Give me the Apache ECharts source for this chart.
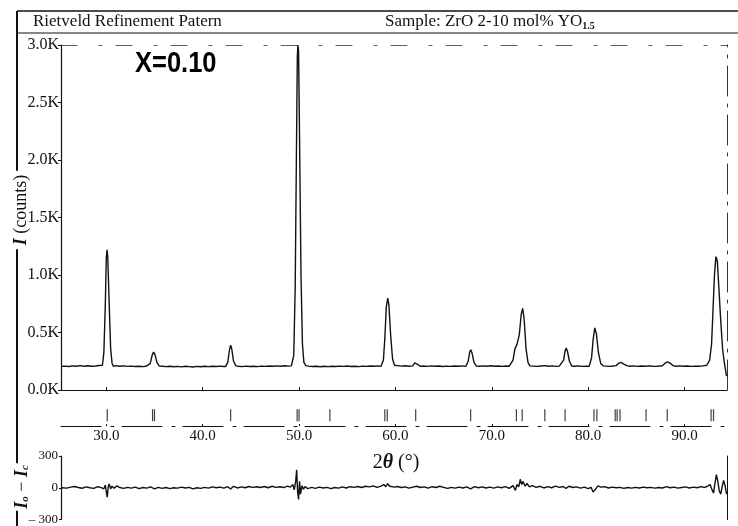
<!DOCTYPE html>
<html>
<head>
<meta charset="utf-8">
<title>Rietveld Refinement Patern</title>
<script src="https://cdn.jsdelivr.net/npm/echarts@6/dist/echarts.min.js"></script>
<style>
    html, body { margin: 0; padding: 0; background: #fff; }
    #chart { width: 738px; height: 526px; }
</style>
</head>
<body>
<div id="chart"></div>
<script>
// calculated profile, [2theta, counts]
const profile = [
    [25.35, 205], [25.7, 208], [26.1, 204], [26.5, 210], [26.9, 206], [27.3, 212], [27.7, 207], [28.1, 211],
    [28.5, 206], [28.9, 209], [29.2, 213],
    [29.4, 205], [29.6, 215], [29.75, 330], [29.9, 750], [30.0, 1150], [30.08, 1220], [30.15, 1160],
    [30.3, 750], [30.45, 360], [30.6, 230], [30.75, 205],
    [31.0, 212], [31.4, 207], [31.8, 210], [32.2, 205], [32.6, 208], [33.0, 204], [33.4, 207], [33.8, 203], [34.1, 206],
    [34.3, 205], [34.55, 230], [34.75, 300], [34.9, 330], [35.05, 310], [35.25, 240], [35.5, 208],
    [35.8, 206], [36.2, 203], [36.6, 207], [37.0, 202], [37.4, 205], [37.8, 201], [38.2, 206], [38.6, 203],
    [39.0, 200], [39.4, 205], [39.8, 202], [40.2, 206], [40.6, 203], [41.0, 207], [41.4, 204], [41.8, 208], [42.1, 205],
    [42.4, 205], [42.6, 240], [42.78, 350], [42.9, 390], [43.02, 355], [43.2, 250], [43.45, 210],
    [43.7, 206], [44.1, 203], [44.5, 208], [44.9, 204], [45.3, 207], [45.7, 203], [46.1, 208], [46.5, 205],
    [46.9, 209], [47.3, 206], [47.7, 210], [48.1, 207], [48.5, 211], [48.9, 208],
    [49.2, 210], [49.45, 300], [49.6, 900], [49.72, 2000], [49.82, 2900], [49.88, 3000], [49.95, 2950],
    [50.05, 2200], [50.2, 1000], [50.35, 400], [50.5, 240], [50.7, 212],
    [51.0, 208], [51.4, 204], [51.8, 207], [52.2, 202], [52.6, 206], [53.0, 203], [53.4, 207], [53.8, 204],
    [54.2, 208], [54.6, 205], [55.0, 209], [55.4, 204], [55.8, 207], [56.2, 203], [56.6, 208], [57.0, 205],
    [57.4, 209], [57.8, 206], [58.2, 210],
    [58.5, 205], [58.75, 260], [58.9, 450], [59.05, 720], [59.2, 800], [59.32, 740], [59.5, 480], [59.7, 270], [59.9, 215],
    [60.2, 212], [60.6, 208], [61.0, 211], [61.4, 207],
    [61.8, 210], [62.0, 235], [62.15, 243], [62.35, 220], [62.6, 205],
    [62.9, 209], [63.3, 205], [63.7, 210], [64.1, 206], [64.5, 209], [64.9, 204], [65.3, 208], [65.7, 205],
    [66.1, 209], [66.5, 206], [66.9, 210],
    [67.3, 205], [67.55, 250], [67.7, 330], [67.82, 350], [67.95, 320], [68.15, 240], [68.4, 208],
    [68.7, 206], [69.1, 210], [69.5, 207], [69.9, 211], [70.3, 206], [70.7, 209], [71.1, 205], [71.5, 209], [71.8, 207],
    [72.0, 210], [72.2, 260], [72.4, 360], [72.6, 395], [72.85, 480], [73.05, 660], [73.2, 710], [73.35, 620],
    [73.55, 360], [73.75, 240], [73.95, 210],
    [74.3, 208], [74.7, 205], [75.1, 209], [75.5, 212], [75.9, 206], [76.3, 210], [76.7, 205], [77.0, 208],
    [77.2, 205], [77.45, 260], [77.6, 340], [77.72, 365], [77.85, 335], [78.05, 250], [78.3, 208],
    [78.6, 206], [79.0, 210], [79.4, 205], [79.8, 208],
    [80.1, 205], [80.35, 280], [80.5, 430], [80.68, 540], [80.85, 490], [81.05, 330], [81.3, 230], [81.55, 210],
    [81.9, 208], [82.3, 205], [82.6, 209],
    [82.9, 212], [83.15, 232], [83.4, 240], [83.7, 225], [84.0, 212],
    [84.3, 207], [84.7, 210], [85.1, 205], [85.5, 209], [85.9, 206], [86.3, 210], [86.7, 207], [87.1, 205], [87.4, 209],
    [87.7, 210], [88.0, 235], [88.25, 245], [88.5, 232], [88.8, 212],
    [89.1, 207], [89.5, 210], [89.9, 206], [90.3, 209], [90.7, 205], [91.1, 208], [91.5, 206], [91.9, 210], [92.1, 212],
    [92.3, 215], [92.6, 260], [92.8, 400], [92.95, 700], [93.1, 1000], [93.25, 1160], [93.4, 1120], [93.55, 900],
    [93.75, 600], [93.95, 350], [94.1, 250], [94.35, 120]
];

// difference curve Io - Ic
const residual = [
    [25.4, 0], [25.9, -4], [26.3, 6], [26.7, 12], [27.1, 2], [27.5, -5], [27.9, 8], [28.3, 0], [28.7, -6], [29.1, 10],
    [29.4, 4], [29.6, 20], [29.75, -10], [29.9, 25], [30.0, -40], [30.1, -90], [30.2, 10], [30.3, 35], [30.45, -10],
    [30.6, 15], [30.8, -5], [31.1, 18], [31.4, 2], [31.8, -6], [32.2, 4], [32.6, -3], [33.0, 6], [33.4, -8], [33.8, 2],
    [34.2, -4], [34.6, 8], [35.0, -10], [35.4, 4], [35.8, -6], [36.2, 2], [36.6, -8], [37.0, 0], [37.4, -4], [37.8, 6],
    [38.2, -2], [38.6, 4], [39.0, -10], [39.4, 0], [39.8, -6], [40.2, 4], [40.6, -4], [41.0, 8], [41.4, 0], [41.8, 6],
    [42.2, -4], [42.6, 10], [42.9, -12], [43.2, 14], [43.6, -2], [44.0, 8], [44.4, 0], [44.8, 12], [45.2, 4], [45.6, 10],
    [46.0, 2], [46.4, 12], [46.8, 0], [47.2, 14], [47.6, 4], [48.0, 10], [48.4, 2], [48.8, 16], [49.1, 6], [49.35, 30],
    [49.5, -20], [49.65, 60], [49.75, 170], [49.85, -40], [49.95, -110], [50.05, 60], [50.15, -60], [50.3, 20],
    [50.45, -15], [50.6, 10], [50.9, -8], [51.3, 4], [51.7, -6], [52.1, 6], [52.5, -2], [52.9, 4], [53.3, -8], [53.7, 2],
    [54.1, -4], [54.5, 8], [54.9, -2], [55.3, 10], [55.7, 4], [56.1, 12], [56.5, 2], [56.9, 14], [57.3, 8], [57.7, 18],
    [58.1, 4], [58.5, 16], [58.8, 30], [59.0, 10], [59.2, 38], [59.4, 14], [59.6, 26], [59.9, 6], [60.2, 12], [60.6, 2],
    [61.0, 8], [61.4, -4], [61.8, 6], [62.2, 14], [62.6, 2], [63.0, 8], [63.4, -4], [63.8, 10], [64.2, 2], [64.6, 14],
    [65.0, 4], [65.4, -6], [65.8, 4], [66.2, -4], [66.6, 6], [67.0, -2], [67.4, 8], [67.8, -10], [68.2, 10], [68.6, 0],
    [69.0, 8], [69.4, -2], [69.8, 6], [70.2, -4], [70.6, 8], [71.0, 0], [71.4, 10], [71.8, -6], [72.2, 20], [72.45, -25],
    [72.6, 30], [72.8, 10], [72.95, 80], [73.1, 30], [73.25, 60], [73.45, 15], [73.65, 40], [73.9, 8], [74.2, 20],
    [74.6, 4], [75.0, 14], [75.4, -2], [75.8, 10], [76.2, 0], [76.6, 16], [77.0, 4], [77.4, 12], [77.7, -6], [78.0, 14],
    [78.4, 2], [78.8, 8], [79.2, -4], [79.6, 6], [80.0, -8], [80.3, 4], [80.5, -40], [80.65, -50], [80.8, -10], [81.0, 18],
    [81.3, 6], [81.7, 10], [82.1, -2], [82.5, 6], [82.9, 0], [83.3, 4], [83.7, -6], [84.1, 2], [84.5, -4], [84.9, 4],
    [85.3, -2], [85.7, 6], [86.1, 0], [86.5, 4], [86.9, -4], [87.3, 2], [87.7, -2], [88.1, 10], [88.5, 0], [88.9, 6],
    [89.3, -4], [89.7, 2], [90.1, 8], [90.5, -2], [90.9, 6], [91.3, 0], [91.7, 10], [92.1, 4], [92.4, 16], [92.65, 30],
    [92.85, -20], [93.0, -50], [93.15, 40], [93.3, 125], [93.45, 60], [93.6, -30], [93.75, -60], [93.9, 10], [94.05, 70],
    [94.2, 20], [94.35, -60]
];

// Bragg reflection positions (2theta)
const reflections = [30.1, 34.8, 35.0, 42.9, 49.8, 50.0, 53.2, 58.9, 59.15, 62.1, 67.8, 72.55, 73.15,
    75.5, 77.6, 80.6, 80.9, 82.8, 83.0, 83.3, 86.0, 88.2, 92.75, 93.0];

const xTicks = [30, 40, 50, 60, 70, 80, 90];
const xMin = 25.3, xMax = 94.4;

document.addEventListener('DOMContentLoaded', function() {
    const chart = echarts.init(document.getElementById('chart'));
    const serif = '"Liberation Serif", "DejaVu Serif", serif';
    const ink = '#111';

    const hiddenX = (grid, pos) => ({
        type: 'value', gridIndex: grid, min: xMin, max: xMax, position: pos,
        axisLine: { show: false }, axisTick: { show: false }, axisLabel: { show: false }, splitLine: { show: false }
    });

    chart.setOption({
        animation: false,
        backgroundColor: '#fff',
        grid: [
            { left: 61, top: 45, width: 666, height: 345 },
            { left: 61, top: 408, width: 666, height: 18 },
            { left: 61, top: 456, width: 666, height: 66 }
        ],
        xAxis: [
            {
                type: 'value', gridIndex: 0, min: xMin, max: xMax,
                axisLine: { lineStyle: { color: ink, width: 1.2 } },
                axisTick: { inside: true, length: 3, customValues: xTicks, lineStyle: { color: ink } },
                axisLabel: { show: false }, splitLine: { show: false }
            },
            {
                // broken top edge at 3.0K
                type: 'value', gridIndex: 0, min: xMin, max: xMax, position: 'top',
                axisLine: { onZero: false, lineStyle: { color: '#333', width: 0.8, type: [16, 22, 3, 14] } },
                axisTick: { show: false }, axisLabel: { show: false }, splitLine: { show: false }
            },
            {
                type: 'value', gridIndex: 1, min: xMin, max: xMax,
                axisLine: { lineStyle: { color: ink, width: 1, type: [40, 10, 3, 8] } },
                axisTick: { inside: true, length: 2, customValues: xTicks, lineStyle: { color: ink } },
                axisLabel: {
                    customValues: xTicks, margin: 3, color: ink,
                    fontFamily: serif, fontSize: 15,
                    formatter: v => v.toFixed(1)
                },
                splitLine: { show: false }
            },
            hiddenX(2, 'bottom')
        ],
        yAxis: [
            {
                type: 'value', gridIndex: 0, min: 0, max: 3000, interval: 500,
                axisLine: { show: true, lineStyle: { color: ink, width: 1.2 } },
                axisTick: { show: true, length: 3, lineStyle: { color: ink } },
                axisLabel: {
                    margin: 2, color: ink, fontFamily: serif, fontSize: 16,
                    formatter: v => (v / 1000).toFixed(1) + 'K'
                },
                splitLine: { show: false }
            },
            {
                type: 'value', gridIndex: 0, min: 0, max: 3000, position: 'right',
                axisLine: { show: true, onZero: false, lineStyle: { color: '#333', width: 1, type: [30, 8, 3, 8] } },
                axisTick: { show: false }, axisLabel: { show: false }, splitLine: { show: false }
            },
            { type: 'value', gridIndex: 1, min: 0, max: 1, show: false },
            {
                type: 'value', gridIndex: 2, min: -300, max: 300, interval: 300,
                axisLine: { show: true, lineStyle: { color: ink, width: 1.2 } },
                axisTick: { show: true, length: 2, lineStyle: { color: ink } },
                axisLabel: {
                    margin: 3, color: ink, fontFamily: serif, fontSize: 13,
                    formatter: v => (v < 0 ? '\u2013 ' + Math.abs(v) : String(v))
                },
                splitLine: { show: false }
            },
            {
                type: 'value', gridIndex: 2, min: -300, max: 300, position: 'right',
                axisLine: { show: true, onZero: false, lineStyle: { color: ink, width: 1 } },
                axisTick: { show: false }, axisLabel: { show: false }, splitLine: { show: false }
            }
        ],
        series: [
            {
                type: 'line', xAxisIndex: 0, yAxisIndex: 0, data: profile,
                showSymbol: false, clip: true,
                lineStyle: { color: ink, width: 1.4 }
            },
            {
                type: 'scatter', xAxisIndex: 2, yAxisIndex: 2,
                data: reflections.map(x => [x, 0.6]),
                symbol: 'rect', symbolSize: [1.2, 12],
                itemStyle: { color: ink }
            },
            {
                type: 'line', xAxisIndex: 3, yAxisIndex: 3, data: residual,
                showSymbol: false, clip: true,
                lineStyle: { color: ink, width: 1.4 }
            }
        ],
        graphic: [
            // outer frame and header band
            { type: 'line', shape: { x1: 17, y1: 11, x2: 738, y2: 11 }, style: { stroke: ink, lineWidth: 1.5 } },
            { type: 'line', shape: { x1: 17, y1: 33, x2: 738, y2: 33 }, style: { stroke: ink, lineWidth: 1.2 } },
            { type: 'line', shape: { x1: 17, y1: 11, x2: 17, y2: 526 }, style: { stroke: ink, lineWidth: 2 } },
            {
                type: 'text', x: 33, y: 22,
                style: { text: 'Rietveld Refinement Patern', fontFamily: serif, fontSize: 17, fill: ink, textVerticalAlign: 'middle' }
            },
            {
                type: 'text', x: 385, y: 22,
                style: {
                    text: 'Sample: ZrO 2-10 mol% YO{sub|1.5}', fontFamily: serif, fontSize: 17, fill: ink,
                    textVerticalAlign: 'middle',
                    rich: { sub: { fontFamily: serif, fontSize: 10, fontWeight: 'bold', fill: ink, padding: [8, 0, 0, 0] } }
                }
            },
            {
                type: 'text', x: 135, y: 64, scaleX: 0.85,
                style: { text: 'X=0.10', fontFamily: '"Liberation Sans", Arial, sans-serif', fontSize: 30, fontWeight: 'bold', fill: '#000', textVerticalAlign: 'middle' }
            },
            {
                type: 'text', x: 21, y: 210, rotation: Math.PI / 2,
                style: {
                    text: '{i|I} (counts)', fontFamily: serif, fontSize: 18, fill: ink,
                    textAlign: 'center', textVerticalAlign: 'middle',
                    backgroundColor: '#fff', padding: [0, 4],
                    rich: { i: { fontFamily: serif, fontSize: 18, fontStyle: 'italic', fontWeight: 'bold', fill: ink } }
                }
            },
            {
                type: 'text', x: 22, y: 487, rotation: Math.PI / 2,
                style: {
                    text: '{i|I}{s|o} \u2212 {i|I}{s|c}', fontFamily: serif, fontSize: 18, fill: ink,
                    textAlign: 'center', textVerticalAlign: 'middle',
                    backgroundColor: '#fff', padding: [0, 2],
                    rich: {
                        i: { fontFamily: serif, fontSize: 18, fontStyle: 'italic', fontWeight: 'bold', fill: ink },
                        s: { fontFamily: serif, fontSize: 11, fontStyle: 'italic', fontWeight: 'bold', fill: ink, padding: [7, 0, 0, 0] }
                    }
                }
            },
            {
                type: 'text', x: 396, y: 463,
                style: {
                    text: '2{t|\u03b8} (\u00b0)', fontFamily: serif, fontSize: 20, fill: ink,
                    textAlign: 'center', textVerticalAlign: 'middle',
                    rich: { t: { fontFamily: serif, fontSize: 20, fontStyle: 'italic', fontWeight: 'bold', fill: ink } }
                }
            }
        ]
    });
    window.addEventListener('resize', () => chart.resize());
});
</script>
</body>
</html>
